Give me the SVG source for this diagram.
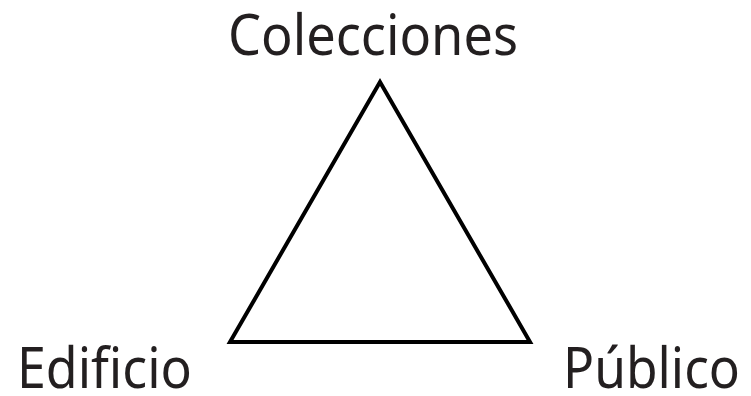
<svg xmlns="http://www.w3.org/2000/svg" width="751" height="396" viewBox="0 0 751 396">
<style>
.lbl{font-family:"Source Sans Pro","Noto Sans","Open Sans",sans-serif;font-size:56px;fill:#231f20;}
.edge{stroke:#000;stroke-width:4;fill:none;stroke-linejoin:miter;}
</style>
<rect width="751" height="396" fill="#fff"/>
<g id="connectors">
<path class="edge" d="M380,82 L530,342 L230,342 Z"/>
</g>
<g id="colecciones"><text class="lbl" x="228" y="55" textLength="290" lengthAdjust="spacingAndGlyphs">Colecciones</text></g>
<g id="edificio"><text class="lbl" x="17" y="388" textLength="175" lengthAdjust="spacingAndGlyphs">Edificio</text></g>
<g id="publico"><text class="lbl" x="563" y="388" textLength="177" lengthAdjust="spacingAndGlyphs">Público</text></g>
</svg>
